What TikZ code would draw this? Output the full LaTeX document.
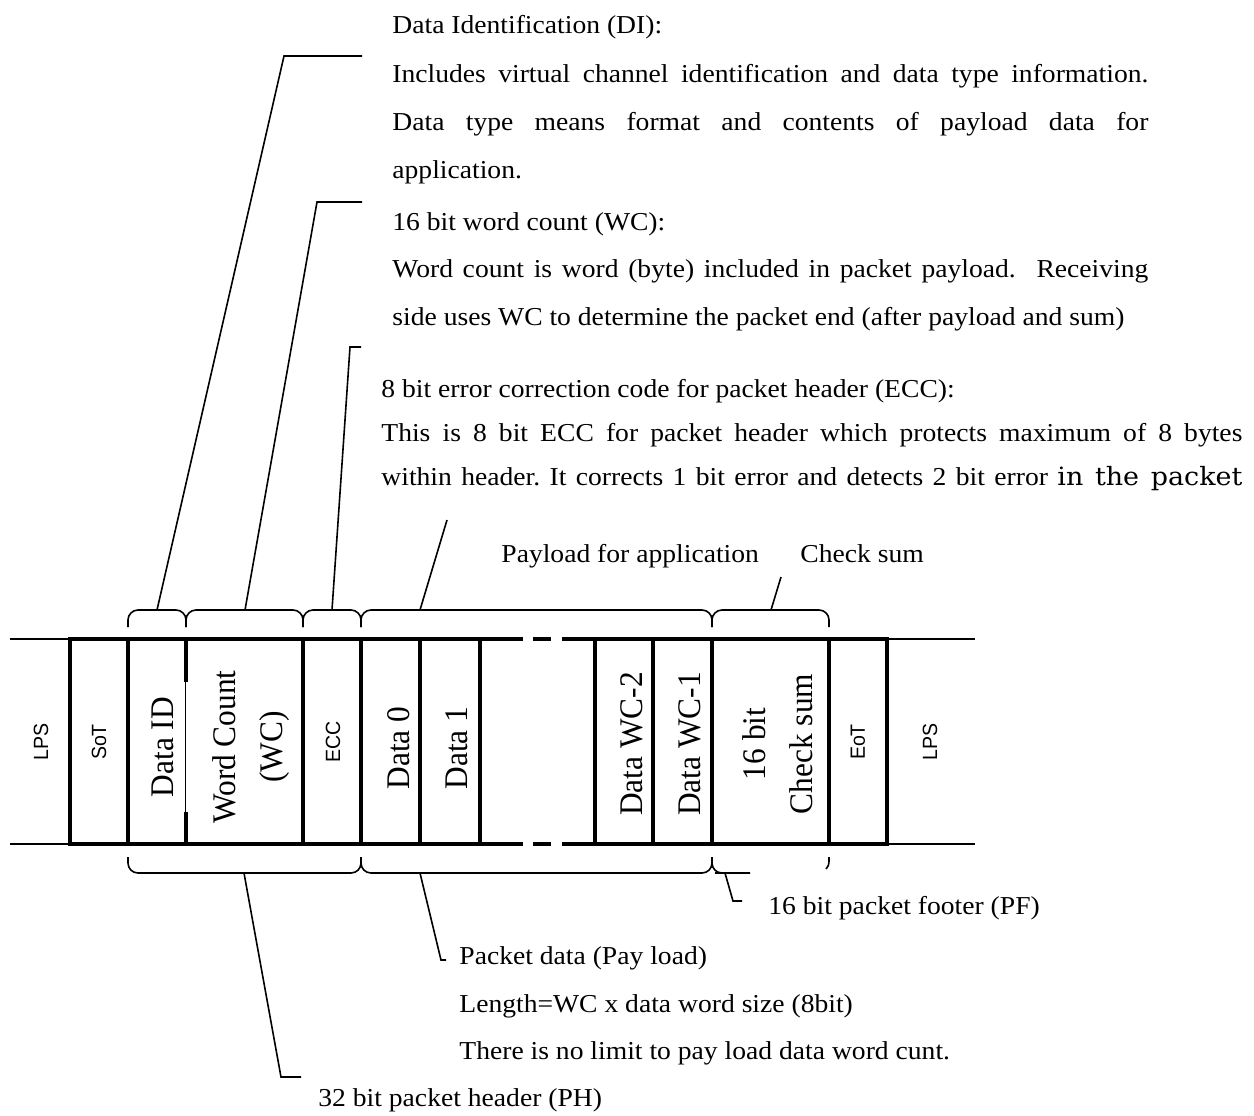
\documentclass[tikz,border=0pt]{standalone}
\usepackage{fontspec}
\setmainfont[FakeStretch=1.07]{Liberation Serif}
\setsansfont[FakeStretch=0.95]{Liberation Sans}
\newfontfamily\cellfont[FakeStretch=0.95]{Liberation Serif}
\newfontfamily\widefont[FakeStretch=1.07]{DejaVu Serif}
\frenchspacing

\begin{document}
\begin{tikzpicture}[x=0.5pt, y=-0.5pt,
    box/.style={line width=2pt},
    rail/.style={line width=1pt},
    brc/.style={line width=0.8pt, rounded corners=5pt},
    lead/.style={line width=0.8pt},
    txt/.style={anchor=base west, inner sep=0pt, font=\fontsize{12.9pt}{15pt}\selectfont},
    cell/.style={rotate=90, inner sep=0pt, align=center, font=\cellfont\fontsize{16.5pt}{23.5pt}\selectfont},
    sfcell/.style={rotate=90, inner sep=0pt, font=\sffamily\fontsize{10.3pt}{12pt}\selectfont}]
    \useasboundingbox (0,0) rectangle (1254,1115);

    % lines outside the packet
    \draw[rail] (10,639) -- (70,639) (10,844) -- (70,844);
    \draw[rail] (887,639) -- (975,639) (887,844) -- (975,844);

    % packet frame, broken in the middle
    \draw[box] (523,639) -- (70,639) -- (70,844) -- (523,844);
    \draw[box] (533,639) -- (551,639) (533,844) -- (551,844);
    \draw[box] (562,639) -- (887,639) -- (887,844) -- (562,844);
    \foreach \x in {128,303,361,420,480,595,653,712,829}
        \draw[box] (\x,639) -- (\x,844);
    \draw[box] (186,639) -- (186,682) (186,812) -- (186,844);
    \draw[line width=0.5pt] (185.5,682) -- (185.5,812);

    % fields
    \node[sfcell] (lpsL) at (41,742) {LPS};
    \node[sfcell] (sot) at (99,742) {SoT};
    \node[cell] (did) at (163,747) {Data ID};
    \node[cell] (wcnt) at (251,747) {Word Count\\(WC)};
    \node[sfcell] (ecc) at (333,742) {ECC};
    \node[cell] (dat0) at (399,748) {Data 0};
    \node[cell] (dat1) at (457,748) {Data 1};
    \node[cell] (datm2) at (632,744) {Data WC-2};
    \node[cell] (datm1) at (690,744) {Data WC-1};
    \node[cell] (csum) at (778,744) {16 bit\\Check sum};
    \node[sfcell] (eot) at (858,742) {EoT};
    \node[sfcell] (lpsR) at (930,742) {LPS};

    % braces above
    \coordinate (diB) at (157,610);
    \coordinate (wcB) at (245,610);
    \coordinate (eccB) at (332,610);
    \coordinate (plB) at (420,610);
    \coordinate (csB) at (771,610);
    \draw[brc] (128,627) |- (diB) -| (186,627);
    \draw[brc] (186,627) |- (wcB) -| (303,627);
    \draw[brc] (303,627) |- (eccB) -| (361,627);
    \draw[brc] (361,627) |- (plB) -| (712,627);
    \draw[brc] (712,627) |- (csB) -| (829,627);

    % braces below
    \coordinate (phB) at (244,873);
    \coordinate (pdB) at (420,873);
    \coordinate (pfB) at (725,873);
    \draw[brc] (128,857) |- (phB) -| (361,857);
    \draw[brc] (361,857) |- (pdB) -| (712,857);
    \draw[brc] (712,857) |- (pfB) -- (750,873);
    \draw[lead] (829,857) .. controls (829,865) .. (826,869);

    % texts
    \node[txt] (diT) at (392,33) {Data Identification (DI):};
    \node[txt] (diA) at (392,82) {\makebox[378pt][s]{Includes virtual channel identification and data type information.}};
    \node[txt] (diB2) at (392,130) {\makebox[378pt][s]{Data type means format and contents of payload data for}};
    \node[txt] (diC) at (392,178) {application.};
    \node[txt] (wcT) at (392,230) {16 bit word count (WC):};
    \node[txt] (wcA) at (392,277) {\makebox[378pt][s]{Word count is word (byte) included in packet payload.\hspace{0.8em}Receiving}};
    \node[txt] (wcC) at (392,325) {side uses WC to determine the packet end (after payload and sum)};
    \node[txt] (eccT) at (381,397) {8 bit error correction code for packet header (ECC):};
    \node[txt] (eccA) at (381,441) {\makebox[430.5pt][s]{This is 8 bit ECC for packet header which protects maximum of 8 bytes}};
    \node[txt] (eccC) at (381,485) {\makebox[430.5pt][s]{within header. It corrects 1 bit error and detects 2 bit error {\widefont\fontsize{12.6pt}{14pt}\selectfont in the packet}}};
    \node[txt] (plT) at (501,562) {Payload for application};
    \node[txt] (csT) at (800,562) {Check sum};
    \node[txt] (pfT) at (768,914) {16 bit packet footer (PF)};
    \node[txt] (pdT) at (459,964) {Packet data (Pay load)};
    \node[txt] (pdA) at (459,1012) {Length=WC x data word size (8bit)};
    \node[txt] (pdC) at (459,1059) {There is no limit to pay load data word cunt.};
    \node[txt] (phT) at (318,1106) {32 bit packet header (PH)};

    % leaders
    \coordinate (diK) at (284,56);
    \coordinate (diE) at (362,56);
    \coordinate (wcK) at (317,202);
    \coordinate (wcE) at (362,202);
    \coordinate (eccK) at (350,347);
    \coordinate (eccE) at (361,347);
    \coordinate (plE) at (447,520);
    \coordinate (csE) at (781,577);
    \coordinate (phK) at (281,1077);
    \coordinate (phE) at (301,1077);
    \coordinate (pdK) at (441,960);
    \coordinate (pdE) at (446,960);
    \coordinate (pfK) at (733,901);
    \coordinate (pfE) at (742,901);
    \draw[lead] (diB) -- (diK) -- (diE);
    \draw[lead] (wcB) -- (wcK) -- (wcE);
    \draw[lead] (eccB) -- (eccK) -- (eccE);
    \draw[lead] (plB) -- (plE);
    \draw[lead] (csB) -- (csE);
    \draw[lead] (phB) -- (phK) -- (phE);
    \draw[lead] (pdB) -- (pdK) -- (pdE);
    \draw[lead] (pfB) -- (pfK) -- (pfE);
\end{tikzpicture}
\end{document}
